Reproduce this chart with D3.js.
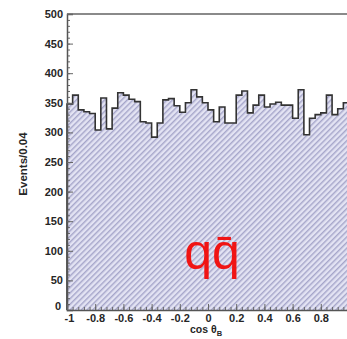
<!DOCTYPE html>
<html>
<head>
<meta charset="utf-8">
<script src="https://cdn.jsdelivr.net/npm/d3@7"></script>
<style>
  html, body { margin: 0; padding: 0; background: #fff; }
  svg { display: block; }
</style>
</head>
<body>
<svg id="chart" width="347" height="339"></svg>
<script>
// Histogram of cos(theta_B) for the q-qbar continuum sample, 50 bins of width 0.04
const binLow = -1;
const binWidth = 0.04;
const counts = [
  348, 363, 338, 335, 332, 304, 358, 306, 341, 367,
  363, 356, 352, 318, 316, 292, 316, 355, 357, 345,
  334, 350, 372, 360, 350, 338, 318, 343, 316, 316,
  363, 370, 333, 346, 363, 343, 348, 351, 346, 346,
  324, 372, 296, 324, 330, 333, 363, 330, 340, 350
];
const xTicks = [-1, -0.8, -0.6, -0.4, -0.2, 0, 0.2, 0.4, 0.6, 0.8];
const yTicks = [0, 50, 100, 150, 200, 250, 300, 350, 400, 450, 500];

const svg = d3.select("#chart");
const plotL = 67, plotR = 349, plotT = 14, plotB = 310;

const x = d3.scaleLinear().domain([-1, 1]).range([plotL, plotR]);
const y = d3.scaleLinear().domain([0, 500]).range([plotB, plotT]);

// hatch pattern (diagonal lines over light lavender)
const defs = svg.append("defs");
const pat = defs.append("pattern")
  .attr("id", "hatch")
  .attr("patternUnits", "userSpaceOnUse")
  .attr("width", 4).attr("height", 4)
  .attr("patternTransform", "rotate(45)");
pat.append("rect").attr("width", 4).attr("height", 4).attr("fill", "#e3e3f3");
pat.append("line").attr("x1", 0.75).attr("y1", 0).attr("x2", 0.75).attr("y2", 4)
  .attr("stroke", "#a0a0c6").attr("stroke-width", 1.3);

const bins = counts.map((c, i) => ({ x0: binLow + i * binWidth, x1: binLow + (i + 1) * binWidth, n: c }));

// filled step area
const stepPts = [];
bins.forEach(b => { stepPts.push([b.x0, b.n]); stepPts.push([b.x1, b.n]); });

const area = d3.area()
  .x(d => x(d[0]))
  .y0(y(0))
  .y1(d => y(d[1]));
svg.append("path")
  .datum(stepPts)
  .attr("d", area)
  .attr("fill", "url(#hatch)");

// outline
const outline = [[bins[0].x0, 0]].concat(stepPts);
svg.append("path")
  .datum(outline)
  .attr("d", d3.line().x(d => x(d[0])).y(d => y(d[1])))
  .attr("fill", "none")
  .attr("stroke", "#333")
  .attr("stroke-width", 1.6)
  .attr("stroke-linejoin", "miter");

// frame top
svg.append("line")
  .attr("x1", plotL).attr("x2", 347).attr("y1", plotT).attr("y2", plotT)
  .attr("stroke", "#8a8a8a").attr("stroke-width", 2);

const fontFam = "'Liberation Sans', Arial, sans-serif";
const fmt = d => String(+(+d).toFixed(1));

// y axis: major and minor ticks pointing inward
const yMinor = d3.range(0, 501, 10);
const gyMinor = svg.append("g").attr("transform", `translate(${plotL},0)`)
  .call(d3.axisLeft(y).tickValues(yMinor).tickSize(-3).tickFormat(""));
const gy = svg.append("g").attr("transform", `translate(${plotL},0)`)
  .call(d3.axisLeft(y).tickValues(yTicks).tickSize(-6).tickPadding(4).tickFormat(fmt));

// x axis
const xMinor = d3.range(0, 50).map(i => binLow + i * binWidth);
const gxMinor = svg.append("g").attr("transform", `translate(0,${plotB})`)
  .call(d3.axisBottom(x).tickValues(xMinor).tickSize(-3).tickFormat(""));
const gx = svg.append("g").attr("transform", `translate(0,${plotB})`)
  .call(d3.axisBottom(x).tickValues(xTicks).tickSize(-6).tickPadding(4).tickFormat(fmt));

[gy, gx, gyMinor, gxMinor].forEach(g => {
  g.selectAll(".domain").attr("stroke", "#555").attr("stroke-width", 1.5);
  g.selectAll(".tick line").attr("stroke", "#666").attr("stroke-width", 1);
  g.selectAll("text")
    .attr("font-family", fontFam)
    .attr("font-weight", "bold")
    .attr("font-size", 11)
    .attr("fill", "#262626");
});
gxMinor.selectAll(".domain").remove();
gyMinor.selectAll(".domain").remove();

// the zero label of the y axis sits a little above the corner
gy.selectAll(".tick").filter(d => d === 0).select("text")
  .attr("x", -6).attr("y", -4);
// "-1" label sits right of the corner
gx.selectAll(".tick").filter(d => d === -1).select("text")
  .attr("x", 2);

// axis titles
svg.append("text")
  .attr("transform", "translate(27,164) rotate(-90)")
  .attr("text-anchor", "middle")
  .attr("font-family", fontFam)
  .attr("font-weight", "bold")
  .attr("font-size", 11.5)
  .attr("fill", "#262626")
  .text("Events/0.04");

const xt = svg.append("text")
  .attr("x", 206).attr("y", 333)
  .attr("text-anchor", "middle")
  .attr("font-family", fontFam)
  .attr("font-weight", "bold")
  .attr("font-size", 10.5)
  .attr("fill", "#262626");
xt.append("tspan").text("cos \u03b8");
xt.append("tspan").attr("font-size", 7.5).attr("dy", 3).text("B");

// sample label
svg.append("text")
  .attr("x", 212).attr("y", 269)
  .attr("text-anchor", "middle")
  .attr("font-family", fontFam)
  .attr("font-size", 50)
  .attr("fill", "#f01414")
  .text("q\u0071\u0304");
</script>
</body>
</html>
